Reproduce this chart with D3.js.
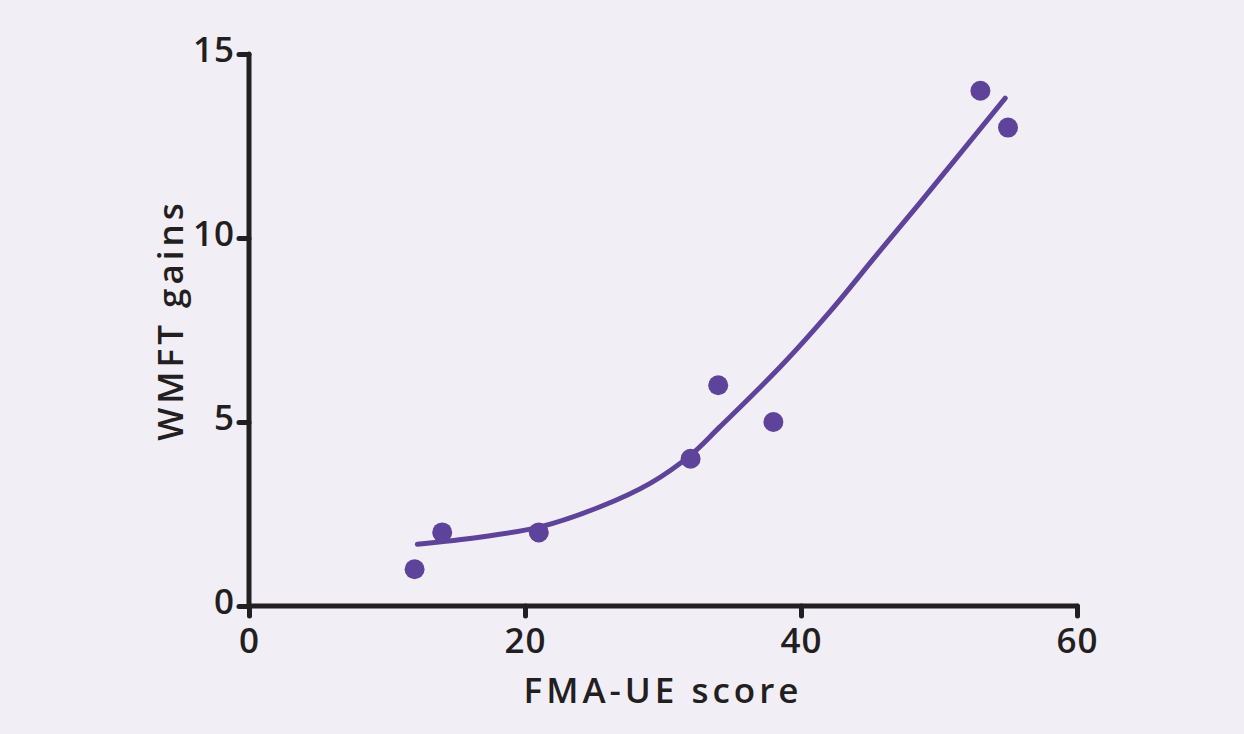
<!DOCTYPE html>
<html>
<head>
<meta charset="utf-8">
<script src="https://cdn.jsdelivr.net/npm/d3@7"></script>
<style>
  body { margin: 0; background: #f1eef6; }
  text { font-family: "Open Sans", sans-serif; fill: #231f20; }
</style>
</head>
<body>
<div id="dataviz"></div>
<script>
// data
const fmaScores = [12, 14, 21, 32, 34, 38, 53, 55];
const wmftGains = [1, 2, 2, 4, 6, 5, 14, 13];
// fitted curve, sampled along the drawn line
const fitX = [12.2, 16.7, 21.1, 25.4, 29.1, 32, 34.1, 38.5, 42.1, 45.5, 48.6, 54.8];
const fitY = [1.68, 1.87, 2.15, 2.69, 3.34, 4.1, 4.86, 6.5, 8.0, 9.55, 10.95, 13.8];
const xTicks = [0, 20, 40, 60];
const yTicks = [0, 5, 10, 15];

const width = 1244, height = 734;
const margin = { top: 54, right: 167, bottom: 128, left: 249 };

const svg = d3.select("#dataviz")
    .append("svg")
    .attr("width", width)
    .attr("height", height)
    .style("background", "#f1eef6");

const x = d3.scaleLinear().domain([0, 60]).range([margin.left, width - margin.right]);
const y = d3.scaleLinear().domain([0, 15]).range([height - margin.bottom, margin.top]);

const ink = "#231f20";
const purple = "#5e439b";

// x axis
const xAxis = svg.append("g")
    .attr("transform", `translate(0, ${y(0)})`)
    .call(d3.axisBottom(x).tickValues(xTicks).tickSize(10).tickPadding(12).tickFormat(d3.format("d")));

// y axis
const yAxis = svg.append("g")
    .attr("transform", `translate(${x(0)}, 0)`)
    .call(d3.axisLeft(y).tickValues(yTicks).tickSize(10).tickPadding(4).tickFormat(d3.format("d")));

[xAxis, yAxis].forEach(function (g) {
    g.select(".domain").attr("stroke", ink).attr("stroke-width", 5).attr("stroke-linecap", "round");
    g.selectAll(".tick line").attr("stroke", ink).attr("stroke-width", 5).attr("stroke-linecap", "round");
    g.selectAll(".tick text")
        .attr("font-family", "Open Sans, sans-serif")
        .attr("font-size", "35px")
        .attr("font-weight", 600)
        .attr("letter-spacing", "1px")
        .attr("fill", ink);
});
// drop the outer ticks that the default domain path draws
xAxis.select(".domain").attr("d", `M${x(0)},0H${x(60)}`);
yAxis.select(".domain").attr("d", `M0,${y(0)}V${y(15)}`);
yAxis.selectAll(".tick text").attr("dy", "0.2em");

// fitted line
const fit = fitX.map((v, i) => [v, fitY[i]]);
svg.append("path")
    .datum(fit)
    .attr("fill", "none")
    .attr("stroke", purple)
    .attr("stroke-width", 5)
    .attr("stroke-linecap", "round")
    .attr("d", d3.line()
        .x(d => x(d[0]))
        .y(d => y(d[1]))
        .curve(d3.curveCatmullRom.alpha(0.5)));

// points
svg.selectAll("circle")
    .data(fmaScores.map((v, i) => [v, wmftGains[i]]))
    .join("circle")
    .attr("cx", d => x(d[0]))
    .attr("cy", d => y(d[1]))
    .attr("r", 10)
    .attr("fill", purple);

// axis titles
svg.append("text")
    .attr("x", (x(0) + x(60)) / 2)
    .attr("y", 703)
    .attr("text-anchor", "middle")
    .attr("font-size", "35px")
    .attr("font-weight", 600)
    .attr("letter-spacing", "4px")
    .text("FMA-UE score");

svg.append("text")
    .attr("transform", `translate(183, 320) rotate(-90)`)
    .attr("text-anchor", "middle")
    .attr("font-size", "35px")
    .attr("font-weight", 600)
    .attr("letter-spacing", "4px")
    .text("WMFT gains");
</script>
</body>
</html>
